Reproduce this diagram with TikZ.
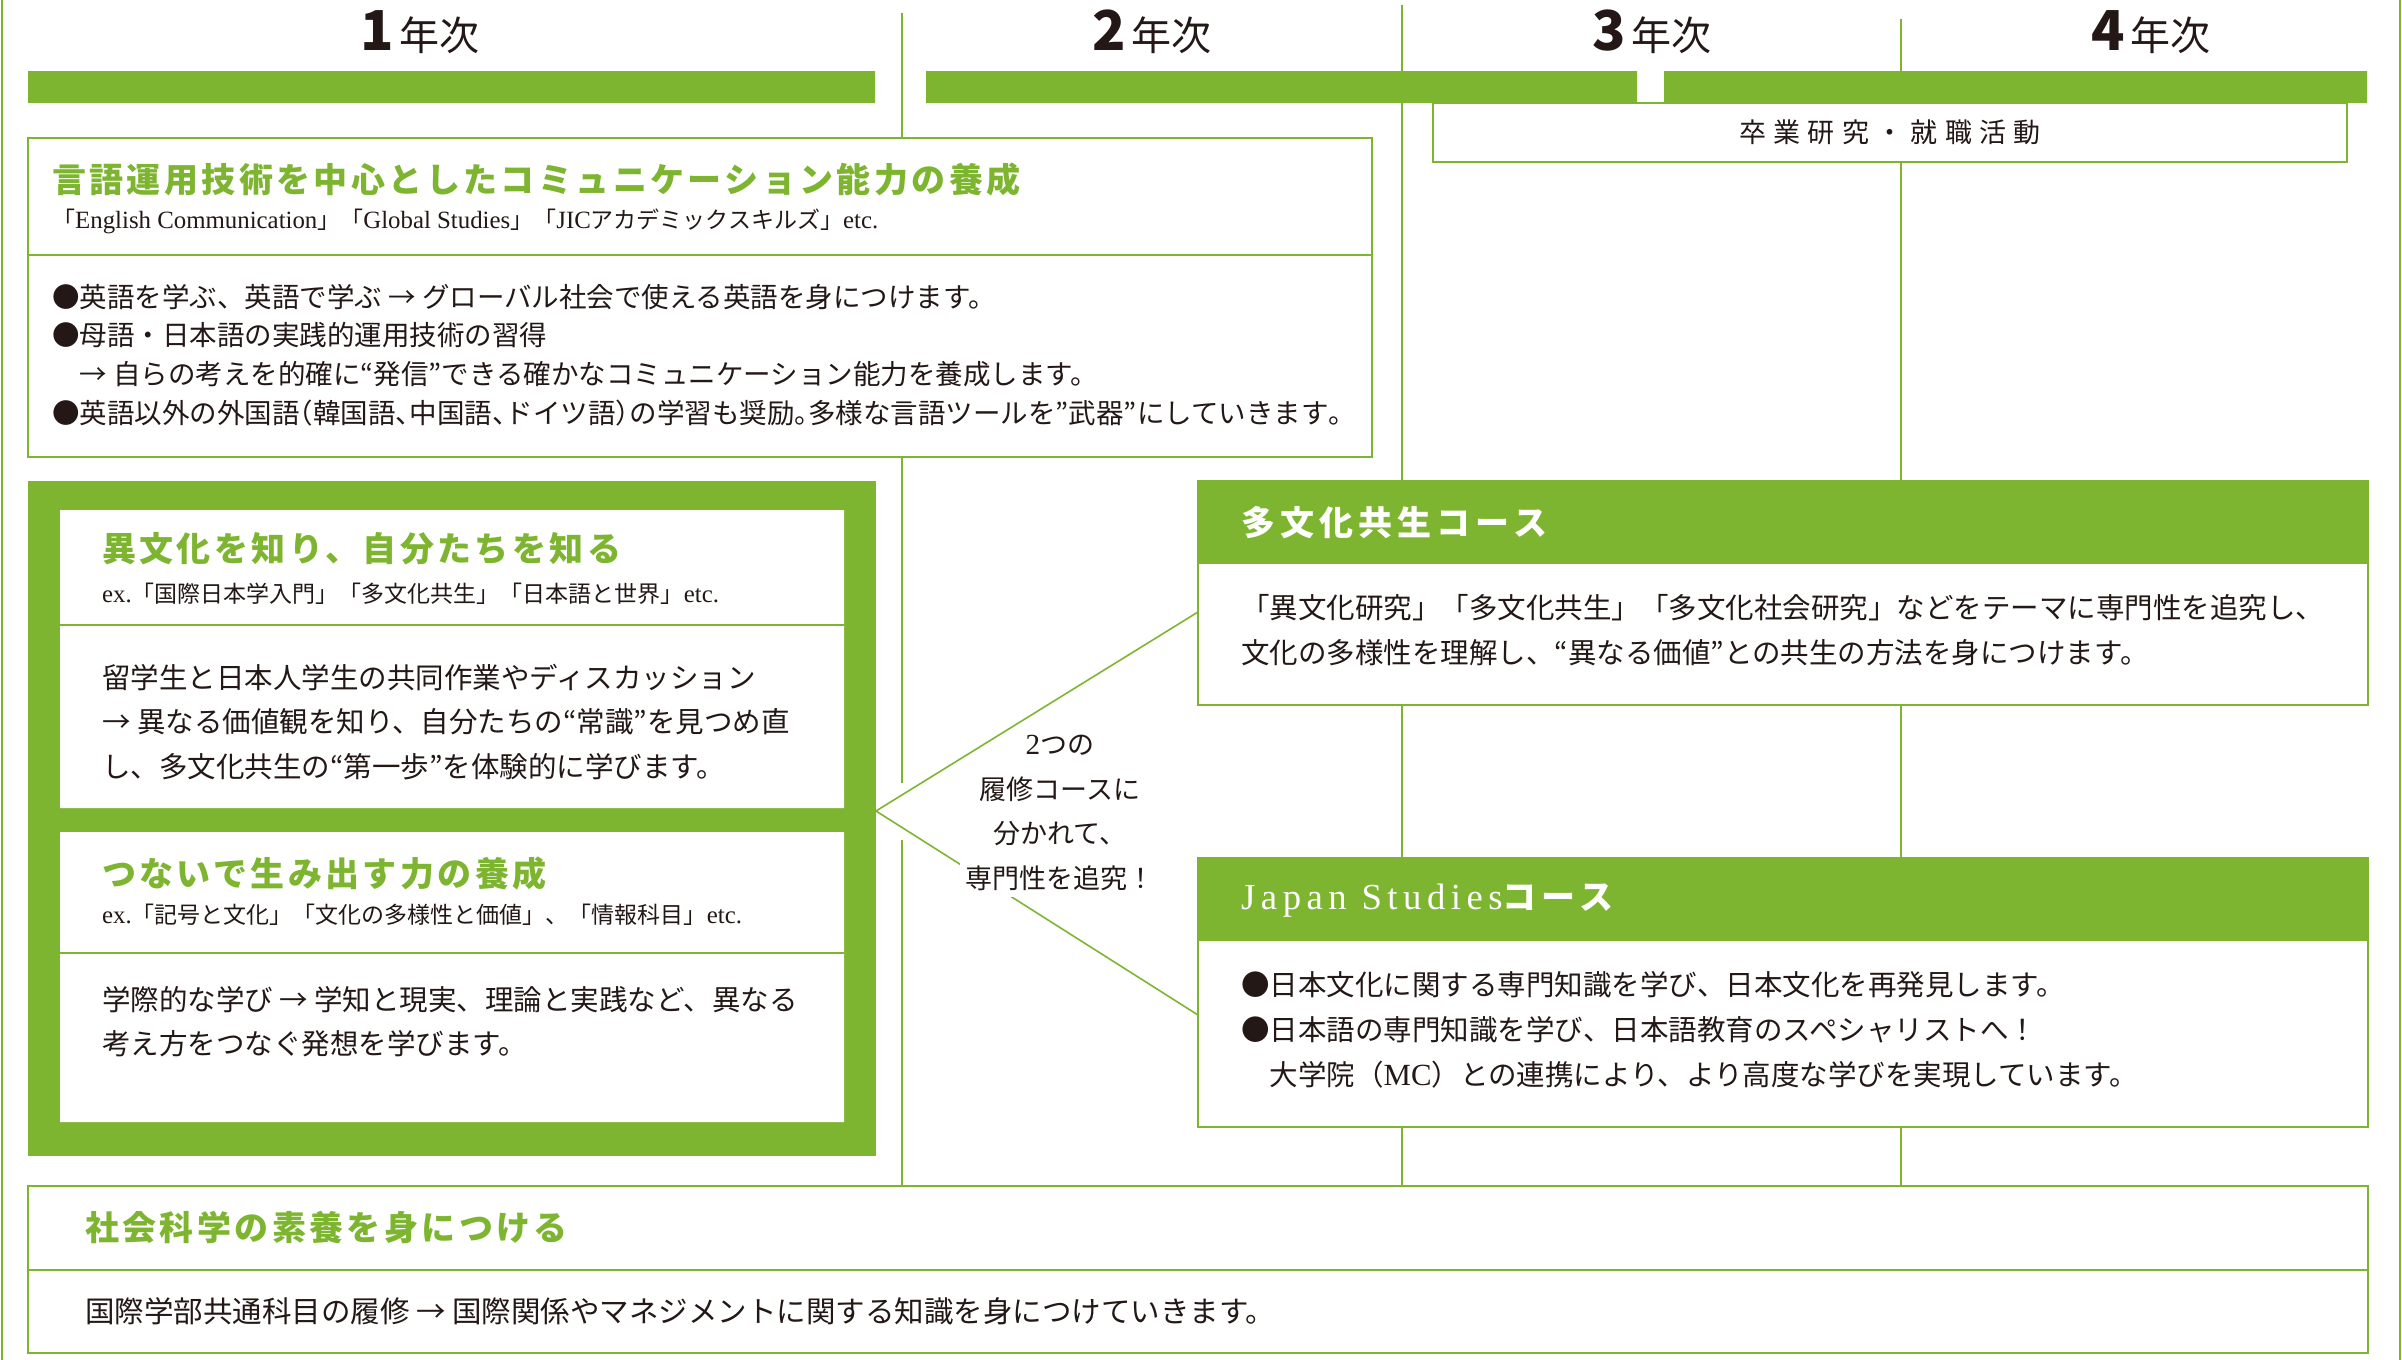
\documentclass[tikz,border=0pt]{standalone}
\usepackage{fontspec}
\setmainfont{Noto Sans CJK JP}
\newfontfamily\latinserif[Scale=1.08]{Liberation Serif}
\newfontfamily\jphalt[RawFeature=+halt]{Noto Sans CJK JP}
\definecolor{leaf}{RGB}{126,181,48}
\definecolor{ink}{RGB}{35,24,21}
\newcommand{\en}[1]{{\latinserif #1}}
\newcommand{\hw}[1]{{\jphalt #1}}
\newcommand{\sizept}[2]{\fontsize{#1}{#2}\selectfont}
\newcommand{\yearmark}[1]{\sizept{55}{55}\bfseries #1\hspace{6pt}\sizept{40}{40}\mdseries 年次}
\tikzset{
  grid/.style={draw=leaf, line width=1.6pt},
  link/.style={draw=leaf, line width=1.6pt},
  frame/.style={draw=leaf, fill=white, line width=1.6pt},
  yearlabel/.style={anchor=base, text=ink, inner sep=0pt},
  headline/.style={anchor=west, inner sep=0pt, text=leaf, font={\sizept{34}{40}\bfseries\addfontfeature{LetterSpace=10}}},
  coursehead/.style={anchor=west, inner sep=0pt, text=white, font={\sizept{34}{40}\bfseries\addfontfeature{LetterSpace=15}}},
  subline/.style={anchor=west, inner sep=0pt, text=ink, font=\sizept{23}{28}},
  bodytext/.style={anchor=west, inner sep=0pt, text=ink, align=left}
}

\begin{document}
\begin{tikzpicture}[x=1pt,y=-1pt]
          \useasboundingbox (0,0) rectangle (2402,1360);
          % year grid
          \draw[grid] (2,0) -- (2,1360);
          \draw[grid] (902,13) -- (902,783) (902,840) -- (902,1186);
          \draw[grid] (1402,5) -- (1402,1186);
          \draw[grid] (1901,19) -- (1901,1186);
          \draw[grid] (2400,0) -- (2400,1360);
          \node[yearlabel] (year1) at (420,50)  {\yearmark{1}};
          \node[yearlabel] (year2) at (1152,50) {\yearmark{2}};
          \node[yearlabel] (year3) at (1652,50) {\yearmark{3}};
          \node[yearlabel] (year4) at (2151,50) {\yearmark{4}};
          \fill[leaf] (28,71) rectangle (875,103)
                      (926,71) rectangle (1637,103)
                      (1664,71) rectangle (2367,103);
          \filldraw[frame] (1433,103) rectangle (2347,162);
          \node[text=ink, inner sep=0pt, font={\sizept{27}{30}\addfontfeature{LetterSpace=27}}] (sotsugyo) at (1890,132) {卒業研究・就職活動};
          % language box
          \filldraw[frame] (28,138) rectangle (1372,457);
          \draw[grid] (28,255) -- (1372,255);
          \node[headline] (gengotitle) at (52,180) {言語運用技術を中心としたコミュニケーション能力の養成};
          \node[subline] (gengosub) at (52,221) {「\en{English Communication}」「\en{Global Studies}」「\en{JIC}アカデミックスキルズ」\en{etc.}};
          \node[bodytext, font=\sizept{27.5}{38.7}] (gengobody) at (52,355) {●英語を学ぶ、英語で学ぶ → グローバル社会で使える英語を身につけます。\\●母語・日本語の実践的運用技術の習得\\\phantom{●}→ 自らの考えを的確に“発信”できる確かなコミュニケーション能力を養成します。\\●英語以外の外国語\hw{（}韓国語\hw{、}中国語\hw{、}ドイツ語\hw{）}の学習も奨励\hw{。}多様な言語ツールを”武器”にしていきます\hw{。}};
          % first year block
          \fill[leaf] (28,481) rectangle (876,1156);
          \fill[white] (60,510) rectangle (844,808)
                       (60,832) rectangle (844,1122);
          \draw[grid] (60,625) -- (844,625) (60,953) -- (844,953);
          \node[headline] (ibunkatitle) at (102,549) {異文化を知り、自分たちを知る};
          \node[subline] (ibunkasub) at (102,594) {\en{ex.}「国際日本学入門」「多文化共生」「日本語と世界」\en{etc.}};
          \node[bodytext, font=\sizept{28.5}{44.5}] (ibunkabody) at (102,722) {留学生と日本人学生の共同作業やディスカッション\\→ 異なる価値観を知り、自分たちの“常識”を見つめ直\\し、多文化共生の“第一歩”を体験的に学びます。};
          \node[headline] (tsunaidetitle) at (102,874) {つないで生み出す力の養成};
          \node[subline] (tsunaidesub) at (102,915) {\en{ex.}「記号と文化」「文化の多様性と価値」、「情報科目」\en{etc.}};
          \node[bodytext, font=\sizept{28.5}{44.5}] (tsunaidebody) at (102,1021.5) {学際的な学び → 学知と現実、理論と実践など、異なる\\考え方をつなぐ発想を学びます。};
          % courses
          \filldraw[frame] (1198,481) rectangle (2368,705);
          \fill[leaf] (1198,481) rectangle (2368,564);
          \node[coursehead] (tabunkahead) at (1241,523) {多文化共生コース};
          \node[bodytext, font=\sizept{28.5}{45}] (tabunkabody) at (1241,630.5) {「異文化研究」「多文化共生」「多文化社会研究」などをテーマに専門性を追究し、\\文化の多様性を理解し、“異なる価値”との共生の方法を身につけます。};
          \filldraw[frame] (1198,858) rectangle (2368,1127);
          \fill[leaf] (1198,858) rectangle (2368,941);
          \node[coursehead] (japanhead) at (1241,901) {{\latinserif\mdseries\addfontfeature{LetterSpace=15}Japan Studies}コース};
          \node[bodytext, font=\sizept{28.5}{45}] (japanbody) at (1241,1030) {●日本文化に関する専門知識を学び、日本文化を再発見します。\\●日本語の専門知識を学び、日本語教育のスペシャリストへ！\\\phantom{●}大学院（\en{MC}）との連携により、より高度な学びを実現しています。};
          % split into two courses
          \coordinate (split) at (876,811);
          \coordinate (tabunkain) at (1198,612);
          \coordinate (japanin) at (1198,1015);
          \draw[link] (split) -- (japanin);
          \node[fill=white, text=ink, align=center, inner sep=6pt, font=\sizept{27}{44.7}] (twocourse) at (1060,813) {\en{2}つの\\履修コースに\\分かれて、\\専門性を追究！};
          \draw[link] (split) -- (tabunkain);
          % social science box
          \filldraw[frame] (28,1186) rectangle (2368,1353);
          \draw[grid] (28,1270) -- (2368,1270);
          \node[headline] (shakaititle) at (85,1227) {社会科学の素養を身につける};
          \node[bodytext, font=\sizept{29.5}{30}] (shakaibody) at (85,1311) {国際学部共通科目の履修 → 国際関係やマネジメントに関する知識を身につけていきます。};
        \end{tikzpicture}
\end{document}
